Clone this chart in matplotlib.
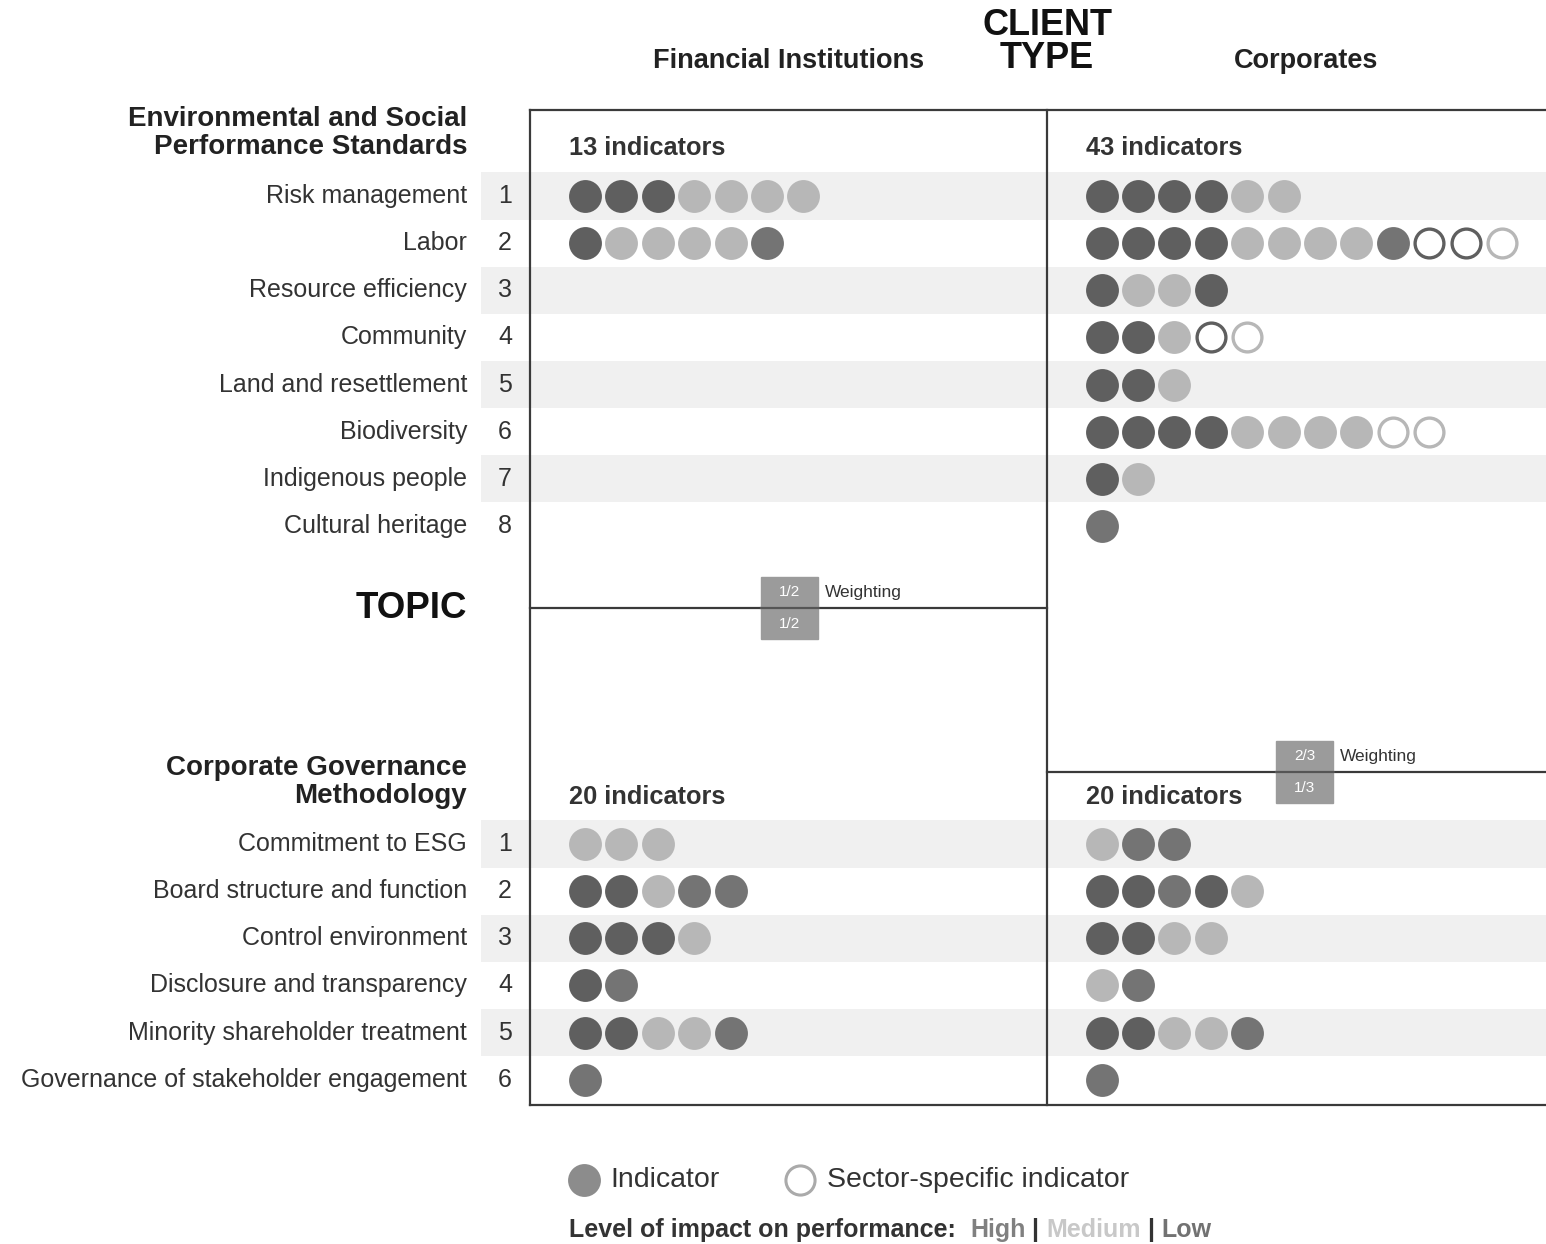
import matplotlib.pyplot as plt

plt.rcParams['font.family'] = ['Liberation Sans', 'DejaVu Sans']

# topics
es_topics = ['Risk management', 'Labor', 'Resource efficiency', 'Community',
             'Land and resettlement', 'Biodiversity', 'Indigenous people',
             'Cultural heritage']
cg_topics = ['Commitment to ESG', 'Board structure and function',
             'Control environment', 'Disclosure and transparency',
             'Minority shareholder treatment',
             'Governance of stakeholder engagement']

# indicator codes per topic: H/M/L = impact level, lower case = sector-specific
fi_es = ['HHHMMMM', 'HMMMML', '', '', '', '', '', '']
corp_es = ['HHHHMM', 'HHHHMMMMLhhm', 'HMMH', 'HHMhm', 'HHM', 'HHHHMMMMmm',
           'HM', 'L']
fi_cg = ['MMM', 'HHMLL', 'HHHM', 'HL', 'HHMML', 'L']
corp_cg = ['MLL', 'HHLHM', 'HHMM', 'ML', 'HHMML', 'L']

client_types = ['Financial Institutions', 'Corporates']
indicator_counts = {'fi_es': 13, 'corp_es': 43, 'fi_cg': 20, 'corp_cg': 20}
weights_fi = ['1/2', '1/2']
weights_corp = ['2/3', '1/3']

colors = {'H': '#5f5f5f', 'M': '#b7b7b7', 'L': '#747474'}
band = '#f0f0f0'
line_c = '#3a3a3a'
txt_c = '#333333'

fig = plt.figure(figsize=(15.46, 12.44), dpi=100)
ax = fig.add_axes([0, 0, 1, 1])
ax.set_xlim(0, 1546)
ax.set_ylim(1244, 0)
ax.axis('off')

es_y0, cg_y0, row_h = 196, 844, 47.15
fi_x0, corp_x0, dot_dx = 585, 1101.5, 36.4
x_left, x_mid, x_right = 530, 1047, 1546


def draw_block(topics, y0, fi_rows, corp_rows):
    for i, name in enumerate(topics):
        y = y0 + i * row_h
        if i % 2 == 0:
            ax.fill_between([481, x_right], y - row_h / 2, y + row_h / 2,
                            color=band, lw=0, zorder=0)
        ax.text(467, y, name, ha='right', va='center', fontsize=18, color=txt_c)
        ax.text(505, y, str(i + 1), ha='center', va='center', fontsize=18, color=txt_c)
        for x0, codes in ((fi_x0, fi_rows[i]), (corp_x0, corp_rows[i])):
            for j, c in enumerate(codes):
                x = x0 + j * dot_dx
                if c.isupper():
                    ax.scatter(x, y, s=560, color=colors[c], lw=0, zorder=3)
                else:
                    ax.scatter(x, y, s=430, facecolor='white',
                               edgecolor=colors[c.upper()], lw=2.4, zorder=3)


draw_block(es_topics, es_y0, fi_es, corp_es)
draw_block(cg_topics, cg_y0, fi_cg, corp_cg)

# frame lines
lw = 1.6
ax.plot([x_left, x_right], [110, 110], color=line_c, lw=lw, zorder=4)
ax.plot([x_left, x_right], [1105, 1105], color=line_c, lw=lw, zorder=4)
ax.plot([x_left, x_left], [110, 1105], color=line_c, lw=lw, zorder=4)
ax.plot([x_mid, x_mid], [110, 1105], color=line_c, lw=lw, zorder=4)
ax.plot([x_left, x_mid], [608, 608], color=line_c, lw=lw, zorder=4)
ax.plot([x_mid, x_right], [772, 772], color=line_c, lw=lw, zorder=4)

# headers
ax.text(1047, 42, 'CLIENT\nTYPE', ha='center', va='center', fontsize=26,
        fontweight='bold', color='#111111', linespacing=0.95)
ax.text(789, 61, client_types[0], ha='center', va='center', fontsize=19.5,
        fontweight='bold', color='#222222')
ax.text(1306, 61, client_types[1], ha='center', va='center', fontsize=19.5,
        fontweight='bold', color='#222222')
ax.text(467, 133, 'Environmental and Social\nPerformance Standards', ha='right',
        va='center', fontsize=20, fontweight='bold', color='#222222',
        linespacing=1.12)
ax.text(467, 782, 'Corporate Governance\nMethodology', ha='right',
        va='center', fontsize=20, fontweight='bold', color='#222222',
        linespacing=1.12)
ax.text(467, 609, 'TOPIC', ha='right', va='center', fontsize=26.5,
        fontweight='bold', color='#111111')

for x, y, key in ((569, 148, 'fi_es'), (1086, 148, 'corp_es'),
                  (569, 797, 'fi_cg'), (1086, 797, 'corp_cg')):
    ax.text(x, y, f'{indicator_counts[key]} indicators', ha='left', va='center',
            fontsize=18.3, fontweight='bold', color=txt_c)

# weighting boxes
for bx, by, w in ((761, 608, weights_fi), (1276, 772, weights_corp)):
    ax.add_patch(plt.Rectangle((bx, by - 31), 57, 62, color='#9b9b9b', zorder=5))
    ax.plot([bx, bx + 57], [by, by], color='#555555', lw=1.6, zorder=6)
    ax.text(bx + 28.5, by - 16, w[0], ha='center', va='center', fontsize=11,
            color='white', zorder=7)
    ax.text(bx + 28.5, by + 16, w[1], ha='center', va='center', fontsize=11,
            color='white', zorder=7)
    ax.text(bx + 64, by - 16, 'Weighting', ha='left', va='center', fontsize=12.5,
            color='#333333', zorder=7)

# legend
ax.scatter(584, 1180, s=560, color='#8c8c8c', lw=0)
ax.text(610, 1180, 'Indicator', ha='left', va='center', fontsize=20.5, color=txt_c)
ax.scatter(800, 1180, s=440, facecolor='white', edgecolor='#aaaaaa', lw=2.2)
ax.text(827, 1180, 'Sector-specific indicator', ha='left', va='center',
        fontsize=20.5, color=txt_c)

t = ax.text(569, 1230, 'Level of impact on performance:  ', ha='left',
            va='center', fontsize=18, fontweight='bold', color=txt_c)
parts = [('High', '#808080'), (' | ', '#333333'), ('Medium', '#c8c8c8'),
         (' | ', '#333333'), ('Low', '#727272')]
fig.canvas.draw()
for word, col in parts:
    t = ax.annotate(word, xycoords=t, xy=(1, 0.5), va='center', ha='left',
                    fontsize=18, fontweight='bold', color=col)
    fig.canvas.draw()

fig.savefig('out.png', dpi=100)
